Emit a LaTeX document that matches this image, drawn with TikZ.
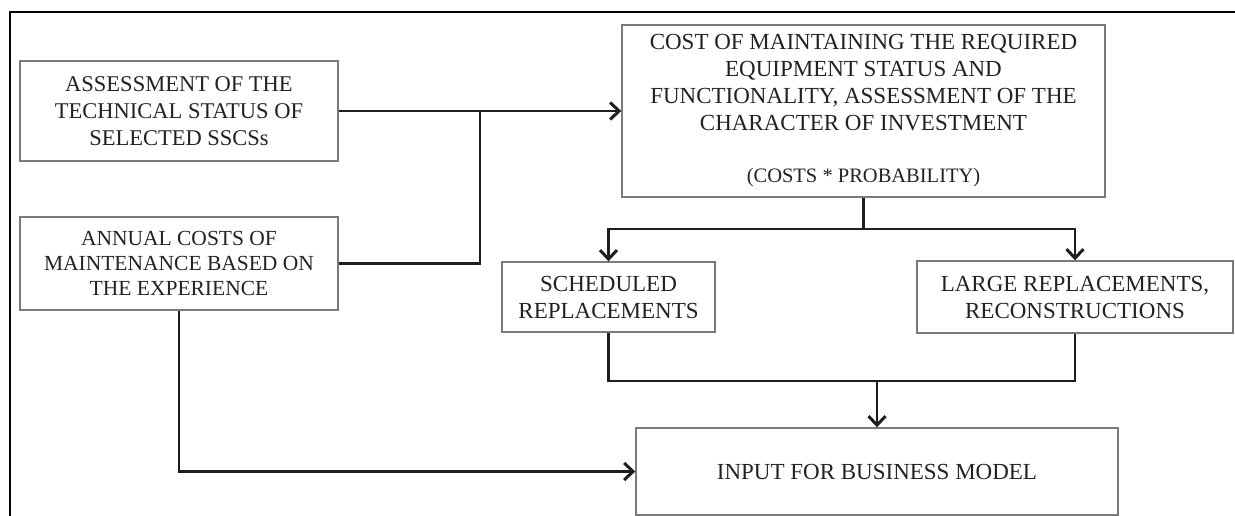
\documentclass[tikz,border=0pt]{standalone}
\usepackage{fontspec}
\setmainfont{Liberation Serif}
\usetikzlibrary{arrows.meta}
\definecolor{inkline}{HTML}{1E1E1E}
\definecolor{boxline}{HTML}{7A7A7A}
\definecolor{inktext}{HTML}{222222}
\tikzset{
  box/.style={draw=boxline, line width=1.4pt, align=center, inner sep=0pt,
              text=inktext, font=\fontsize{23}{27}\selectfont},
  link/.style={draw=inkline, line width=2.3pt},
  arr/.style={link, -{Straight Barb[length=9pt,width=17pt,line width=3pt]}}
}
\begin{document}
\begin{tikzpicture}[x=1pt,y=-1pt]
  \useasboundingbox (0,0) rectangle (1235,516);
  % frame edges
  \draw[line width=2.4pt, black] (10,516) -- (10,12) -- (1235,12);

  % boxes
  \node[box, font=\fontsize{22.5}{27}\selectfont, minimum width=318pt, minimum height=100pt]
    (tech) at (179,111) {ASSESSMENT OF THE\\TECHNICAL STATUS OF\\SELECTED SSCSs};
  \node[box, font=\fontsize{21.5}{25}\selectfont, minimum width=318pt, minimum height=93pt]
    (annual) at (179,263.5) {ANNUAL COSTS OF\\MAINTENANCE BASED ON\\THE EXPERIENCE};
  \node[box, minimum width=483pt, minimum height=172pt]
    (cost) at (863.5,111) {COST OF MAINTAINING THE REQUIRED\\EQUIPMENT STATUS AND\\FUNCTIONALITY, ASSESSMENT OF THE\\CHARACTER OF INVESTMENT\\[25pt]{\fontsize{20.5}{24}\selectfont (COSTS * PROBABILITY)}};
  \node[box, minimum width=213pt, minimum height=70pt]
    (sched) at (608.5,297) {SCHEDULED\\REPLACEMENTS};
  \node[box, minimum width=316pt, minimum height=72pt]
    (large) at (1075,297) {LARGE REPLACEMENTS,\\RECONSTRUCTIONS};
  \node[box, minimum width=482pt, minimum height=87pt]
    (input) at (877,471.5) {\raisebox{-4pt}{INPUT FOR BUSINESS MODEL}};

  % junction points
  \coordinate (join) at (480,111);
  \coordinate (split) at (863.5,229);
  \coordinate (merge) at (877,381);

  % connectors
  \draw[arr] (tech.east) -- (cost.west);
  \draw[link] (annual.east) -| (join);
  \draw[link] (cost.south) -- (split);
  \draw[arr] (split) -| (sched.north);
  \draw[arr] (split) -| (large.north);
  \draw[link] (sched.south) |- (merge);
  \draw[link] (large.south) |- (merge);
  \draw[arr] (merge) -- (input.north);
  \draw[arr] (annual.south) |- (input.west);
\end{tikzpicture}
\end{document}
